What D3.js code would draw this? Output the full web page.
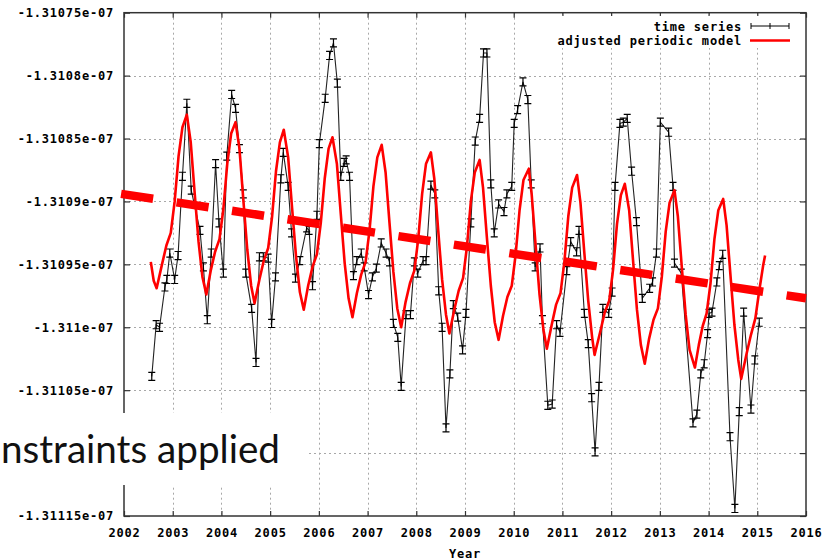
<!DOCTYPE html>
<html>
<head>
<meta charset="utf-8">
<script src="https://cdn.jsdelivr.net/npm/d3@7/dist/d3.min.js"></script>
<style>
  html, body { margin: 0; padding: 0; background: #fff; }
  svg { display: block; }
  .mono { font-family: "DejaVu Sans Mono", "Liberation Mono", monospace; font-weight: bold; font-size: 12px; letter-spacing: 0.8px; fill: #000; }
</style>
</head>
<body>
<svg id="chart" width="840" height="560"></svg>
<script>
// Observed time series (decimal year, value) with a constant error bar
const seriesYears = [
  2002.57, 2002.66, 2002.73, 2002.84, 2002.88, 2002.94, 2003.04, 2003.11, 2003.20, 2003.29,
  2003.38, 2003.56, 2003.63, 2003.71, 2003.79, 2003.88, 2003.95, 2004.04, 2004.11, 2004.21,
  2004.29, 2004.37, 2004.45, 2004.50, 2004.62, 2004.71, 2004.78, 2004.86, 2004.96, 2005.03,
  2005.11, 2005.22, 2005.27, 2005.37, 2005.44, 2005.52, 2005.61, 2005.75, 2005.80, 2005.87,
  2005.96, 2006.01, 2006.13, 2006.22, 2006.30, 2006.38, 2006.45, 2006.52, 2006.56, 2006.63,
  2006.71, 2006.78, 2006.87, 2006.93, 2007.02, 2007.10, 2007.18, 2007.28, 2007.38, 2007.45,
  2007.53, 2007.62, 2007.69, 2007.79, 2007.88, 2007.96, 2008.03, 2008.14, 2008.20, 2008.30,
  2008.38, 2008.46, 2008.53, 2008.61, 2008.69, 2008.76, 2008.85, 2008.95, 2009.02, 2009.12,
  2009.21, 2009.30, 2009.38, 2009.45, 2009.53, 2009.60, 2009.69, 2009.80, 2009.86, 2009.96,
  2010.01, 2010.08, 2010.19, 2010.29, 2010.36, 2010.44, 2010.54, 2010.59, 2010.70, 2010.79,
  2010.88, 2010.95, 2011.09, 2011.17, 2011.29, 2011.34, 2011.45, 2011.53, 2011.60, 2011.67,
  2011.75, 2011.83, 2011.95, 2012.02, 2012.08, 2012.18, 2012.25, 2012.33, 2012.42, 2012.52,
  2012.64, 2012.79, 2012.85, 2012.93, 2013.01, 2013.18, 2013.27, 2013.30, 2013.44, 2013.68,
  2013.76, 2013.84, 2013.91, 2013.98, 2014.01, 2014.07, 2014.17, 2014.22, 2014.29, 2014.44,
  2014.54, 2014.63, 2014.72, 2014.87, 2014.95, 2015.04
];
const seriesValues = [
  -1.311039e-7, -1.310998e-7, -1.311000e-7, -1.310968e-7, -1.310962e-7, -1.310941e-7, -1.310962e-7, -1.310943e-7, -1.310880e-7, -1.310822e-7,
  -1.310891e-7, -1.310923e-7, -1.310952e-7, -1.310994e-7, -1.310941e-7, -1.310870e-7, -1.310917e-7, -1.310957e-7, -1.310864e-7, -1.310815e-7,
  -1.310826e-7, -1.310858e-7, -1.310894e-7, -1.310957e-7, -1.310985e-7, -1.311028e-7, -1.310944e-7, -1.310944e-7, -1.310945e-7, -1.310997e-7,
  -1.310960e-7, -1.310882e-7, -1.310861e-7, -1.310888e-7, -1.310925e-7, -1.310961e-7, -1.310947e-7, -1.310921e-7, -1.310923e-7, -1.310967e-7,
  -1.310911e-7, -1.310854e-7, -1.310818e-7, -1.310784e-7, -1.310774e-7, -1.310806e-7, -1.310880e-7, -1.310869e-7, -1.310867e-7, -1.310880e-7,
  -1.310959e-7, -1.310947e-7, -1.310941e-7, -1.310952e-7, -1.310974e-7, -1.310960e-7, -1.310953e-7, -1.310933e-7, -1.310941e-7, -1.310948e-7,
  -1.310997e-7, -1.311008e-7, -1.311047e-7, -1.310990e-7, -1.310990e-7, -1.310948e-7, -1.310957e-7, -1.310947e-7, -1.310947e-7, -1.310887e-7,
  -1.310894e-7, -1.310971e-7, -1.311000e-7, -1.311080e-7, -1.311037e-7, -1.310982e-7, -1.310992e-7, -1.311018e-7, -1.310989e-7, -1.310917e-7,
  -1.310852e-7, -1.310834e-7, -1.310782e-7, -1.310782e-7, -1.310886e-7, -1.310925e-7, -1.310902e-7, -1.310908e-7, -1.310894e-7, -1.310888e-7,
  -1.310838e-7, -1.310827e-7, -1.310805e-7, -1.310819e-7, -1.310886e-7, -1.310952e-7, -1.310937e-7, -1.310994e-7, -1.311062e-7, -1.311061e-7,
  -1.310998e-7, -1.311004e-7, -1.310955e-7, -1.310932e-7, -1.310940e-7, -1.310923e-7, -1.310989e-7, -1.311013e-7, -1.311056e-7, -1.311099e-7,
  -1.311047e-7, -1.310985e-7, -1.310989e-7, -1.310972e-7, -1.310888e-7, -1.310838e-7, -1.310837e-7, -1.310834e-7, -1.310876e-7, -1.310916e-7,
  -1.310977e-7, -1.310969e-7, -1.310964e-7, -1.310941e-7, -1.310837e-7, -1.310845e-7, -1.310888e-7, -1.310949e-7, -1.310957e-7, -1.311076e-7,
  -1.311069e-7, -1.311037e-7, -1.311029e-7, -1.311005e-7, -1.310989e-7, -1.310988e-7, -1.310964e-7, -1.310951e-7, -1.310942e-7, -1.311087e-7,
  -1.311144e-7, -1.311067e-7, -1.310988e-7, -1.311065e-7, -1.311026e-7, -1.310996e-7
];
const seriesError = 3.2e-13;

// Adjusted periodic model
const modelYears = [
  2002.55, 2002.61, 2002.67, 2002.78, 2002.87, 2002.96, 2003.04, 2003.12, 2003.20, 2003.29,
  2003.37, 2003.45, 2003.53, 2003.61, 2003.69, 2003.78, 2003.87, 2003.96, 2004.04, 2004.12,
  2004.20, 2004.29, 2004.37, 2004.45, 2004.53, 2004.61, 2004.68, 2004.78, 2004.87, 2004.96,
  2005.04, 2005.12, 2005.20, 2005.28, 2005.37, 2005.45, 2005.53, 2005.61, 2005.69, 2005.78,
  2005.87, 2005.96, 2006.04, 2006.12, 2006.20, 2006.28, 2006.37, 2006.45, 2006.53, 2006.61,
  2006.69, 2006.78, 2006.87, 2006.96, 2007.04, 2007.12, 2007.20, 2007.29, 2007.37, 2007.45,
  2007.53, 2007.61, 2007.69, 2007.78, 2007.87, 2007.96, 2008.04, 2008.12, 2008.20, 2008.30,
  2008.37, 2008.45, 2008.53, 2008.61, 2008.68, 2008.78, 2008.87, 2008.96, 2009.04, 2009.12,
  2009.20, 2009.30, 2009.37, 2009.45, 2009.53, 2009.61, 2009.69, 2009.78, 2009.87, 2009.96,
  2010.04, 2010.12, 2010.20, 2010.31, 2010.37, 2010.45, 2010.53, 2010.61, 2010.68, 2010.78,
  2010.87, 2010.96, 2011.04, 2011.12, 2011.20, 2011.30, 2011.37, 2011.45, 2011.53, 2011.61,
  2011.66, 2011.78, 2011.87, 2011.96, 2012.04, 2012.12, 2012.20, 2012.28, 2012.37, 2012.45,
  2012.53, 2012.61, 2012.69, 2012.78, 2012.87, 2012.96, 2013.04, 2013.12, 2013.20, 2013.30,
  2013.37, 2013.45, 2013.53, 2013.61, 2013.72, 2013.80, 2013.88, 2013.96, 2014.04, 2014.12,
  2014.20, 2014.30, 2014.37, 2014.45, 2014.53, 2014.61, 2014.67, 2014.78, 2014.87, 2014.96,
  2015.04, 2015.12, 2015.16
];
const modelValues = [
  -1.310948e-7, -1.310963e-7, -1.310969e-7, -1.310950e-7, -1.310935e-7, -1.310925e-7, -1.310900e-7, -1.310864e-7, -1.310841e-7, -1.310831e-7,
  -1.310853e-7, -1.310893e-7, -1.310932e-7, -1.310960e-7, -1.310974e-7, -1.310955e-7, -1.310940e-7, -1.310930e-7, -1.310906e-7, -1.310870e-7,
  -1.310846e-7, -1.310837e-7, -1.310858e-7, -1.310899e-7, -1.310938e-7, -1.310967e-7, -1.310981e-7, -1.310962e-7, -1.310947e-7, -1.310937e-7,
  -1.310912e-7, -1.310876e-7, -1.310853e-7, -1.310843e-7, -1.310865e-7, -1.310905e-7, -1.310943e-7, -1.310972e-7, -1.310986e-7, -1.310967e-7,
  -1.310952e-7, -1.310942e-7, -1.310917e-7, -1.310882e-7, -1.310858e-7, -1.310849e-7, -1.310870e-7, -1.310910e-7, -1.310949e-7, -1.310977e-7,
  -1.310992e-7, -1.310973e-7, -1.310958e-7, -1.310948e-7, -1.310923e-7, -1.310888e-7, -1.310865e-7, -1.310855e-7, -1.310877e-7, -1.310917e-7,
  -1.310956e-7, -1.310985e-7, -1.311000e-7, -1.310980e-7, -1.310965e-7, -1.310955e-7, -1.310930e-7, -1.310894e-7, -1.310870e-7, -1.310861e-7,
  -1.310882e-7, -1.310923e-7, -1.310962e-7, -1.310990e-7, -1.311005e-7, -1.310986e-7, -1.310971e-7, -1.310961e-7, -1.310936e-7, -1.310900e-7,
  -1.310877e-7, -1.310867e-7, -1.310889e-7, -1.310929e-7, -1.310967e-7, -1.310996e-7, -1.311010e-7, -1.310991e-7, -1.310976e-7, -1.310967e-7,
  -1.310942e-7, -1.310907e-7, -1.310883e-7, -1.310874e-7, -1.310895e-7, -1.310935e-7, -1.310974e-7, -1.311002e-7, -1.311017e-7, -1.310998e-7,
  -1.310982e-7, -1.310973e-7, -1.310948e-7, -1.310912e-7, -1.310889e-7, -1.310879e-7, -1.310901e-7, -1.310941e-7, -1.310979e-7, -1.311008e-7,
  -1.311022e-7, -1.311003e-7, -1.310988e-7, -1.310979e-7, -1.310954e-7, -1.310918e-7, -1.310895e-7, -1.310886e-7, -1.310907e-7, -1.310947e-7,
  -1.310986e-7, -1.311014e-7, -1.311029e-7, -1.311009e-7, -1.310994e-7, -1.310985e-7, -1.310960e-7, -1.310924e-7, -1.310901e-7, -1.310891e-7,
  -1.310912e-7, -1.310952e-7, -1.310990e-7, -1.311018e-7, -1.311032e-7, -1.311014e-7, -1.310999e-7, -1.310989e-7, -1.310965e-7, -1.310930e-7,
  -1.310907e-7, -1.310898e-7, -1.310919e-7, -1.310959e-7, -1.310998e-7, -1.311026e-7, -1.311041e-7, -1.311021e-7, -1.311006e-7, -1.310993e-7,
  -1.310971e-7, -1.310951e-7, -1.310943e-7
];

// Linear trend overlay
const trendYears = [2001.94, 2016];
const trendValues = [-1.310894e-7, -1.310977e-7];

// Axis ticks
const xTicks = [2002, 2003, 2004, 2005, 2006, 2007, 2008, 2009, 2010, 2011, 2012, 2013, 2014, 2015, 2016];
const yTicks = [-1.31075e-7, -1.3108e-7, -1.31085e-7, -1.3109e-7, -1.31095e-7, -1.311e-7, -1.31105e-7, -1.3111e-7, -1.31115e-7];
const yTickLabels = ["-1.31075e-07", "-1.3108e-07", "-1.31085e-07", "-1.3109e-07", "-1.31095e-07", "-1.311e-07", "-1.31105e-07", "-1.3111e-07", "-1.31115e-07"];

const legendLabels = ["time series", "adjusted periodic model"];
const noteText = "nstraints applied";

const plot = { left: 124, right: 806, top: 12.7, bottom: 516 };
const svg = d3.select("#chart");
svg.append("rect").attr("width", 840).attr("height", 560).attr("fill", "#fff");

const x = d3.scaleLinear().domain([2002, 2016]).range([plot.left, plot.right]);
const y = d3.scaleLinear().domain([-1.31115e-7, -1.31075e-7]).range([plot.bottom, plot.top]);

// Dotted grid
const grid = svg.append("g").attr("stroke", "#a8a8a8").attr("stroke-width", 1).attr("stroke-dasharray", "2,3");
grid.selectAll("line.gx").data(xTicks.slice(1, -1)).enter().append("line")
  .attr("x1", d => Math.round(x(d)) + 0.5).attr("x2", d => Math.round(x(d)) + 0.5)
  .attr("y1", plot.top).attr("y2", plot.bottom);
grid.selectAll("line.gy").data(yTicks.slice(1, -1)).enter().append("line")
  .attr("y1", d => Math.round(y(d)) + 0.5).attr("y2", d => Math.round(y(d)) + 0.5)
  .attr("x1", plot.left).attr("x2", plot.right);

// Axes with inward ticks on all four sides
function styleAxis(g) {
  g.select(".domain").remove();
  g.selectAll(".tick line").attr("stroke", "#333").attr("stroke-width", 1.2);
  g.selectAll(".tick text").attr("class", "mono").attr("fill", "#000");
}
const yFmt = d => yTickLabels[yTicks.indexOf(d)];
svg.append("g").attr("transform", `translate(${plot.left},0)`)
  .call(d3.axisLeft(y).tickValues(yTicks).tickFormat(yFmt).tickSizeInner(-6).tickSizeOuter(0).tickPadding(10))
  .call(styleAxis)
  .call(g => g.selectAll(".tick text").filter(d => d === -1.3111e-7).remove());
svg.append("g").attr("transform", `translate(${plot.right},0)`)
  .call(d3.axisRight(y).tickValues(yTicks).tickFormat("").tickSizeInner(-6).tickSizeOuter(0))
  .call(styleAxis);
svg.append("g").attr("transform", `translate(0,${plot.bottom})`)
  .call(d3.axisBottom(x).tickValues(xTicks).tickFormat(d3.format("d")).tickSizeInner(-5).tickSizeOuter(0).tickPadding(12.5))
  .call(styleAxis);
svg.append("g").attr("transform", `translate(0,${plot.top})`)
  .call(d3.axisTop(x).tickValues(xTicks).tickFormat("").tickSizeInner(-5).tickSizeOuter(0))
  .call(styleAxis);

// Frame
svg.append("rect")
  .attr("x", plot.left).attr("y", plot.top)
  .attr("width", plot.right - plot.left).attr("height", plot.bottom - plot.top)
  .attr("fill", "none").attr("stroke", "#333").attr("stroke-width", 1.5);

// Axis title
svg.append("text").attr("class", "mono").attr("x", (plot.left + plot.right) / 2).attr("y", 558)
  .attr("text-anchor", "middle").text("Year");

// Legend (opaque background)
svg.append("rect").attr("x", 552).attr("y", 16).attr("width", 244).attr("height", 32).attr("fill", "#fff");

// Time series line and error bars
const series = seriesYears.map((yr, i) => ({ yr, v: seriesValues[i] }));
svg.append("path").datum(series)
  .attr("fill", "none").attr("stroke", "#222").attr("stroke-width", 1.1)
  .attr("d", d3.line().x(d => x(d.yr)).y(d => y(d.v)));
const bars = svg.append("g").attr("stroke", "#000").attr("stroke-width", 1.2);
bars.selectAll("path").data(series).enter().append("path")
  .attr("fill", "none")
  .attr("d", d => {
    const cx = x(d.yr), y0 = y(d.v - seriesError), y1 = y(d.v + seriesError);
    return `M${cx},${y0}V${y1}M${cx - 3.5},${y0}H${cx + 3.5}M${cx - 3.5},${y1}H${cx + 3.5}`;
  });

// Periodic model
const model = modelYears.map((yr, i) => ({ yr, v: modelValues[i] }));
svg.append("path").datum(model)
  .attr("fill", "none").attr("stroke", "#ff0000").attr("stroke-width", 2.6).attr("stroke-linejoin", "round")
  .attr("d", d3.line().x(d => x(d.yr)).y(d => y(d.v)));

// Trend (thick dashed)
const trend = trendYears.map((yr, i) => ({ yr, v: trendValues[i] }));
svg.append("path").datum(trend)
  .attr("fill", "none").attr("stroke", "#ff0000").attr("stroke-width", 8.5)
  .attr("stroke-dasharray", "32.4,23.7")
  .attr("d", d3.line().x(d => x(d.yr)).y(d => y(d.v)));

// Legend entries
svg.append("text").attr("class", "mono").attr("x", 742).attr("y", 31).attr("text-anchor", "end").text(legendLabels[0]);
svg.append("text").attr("class", "mono").attr("x", 742).attr("y", 45).attr("text-anchor", "end").text(legendLabels[1]);
svg.append("path").attr("fill", "none").attr("stroke", "#000").attr("stroke-width", 1)
  .attr("d", "M751,26H789M751,23V29M789,23V29M770,23V29");
svg.append("line").attr("x1", 750).attr("x2", 790).attr("y1", 40.5).attr("y2", 40.5)
  .attr("stroke", "#ff0000").attr("stroke-width", 2.4);

// Annotation panel
svg.append("rect").attr("x", 0).attr("y", 413).attr("width", 309).attr("height", 72).attr("fill", "#fff");
svg.append("text").attr("x", 1).attr("y", 463)
  .attr("font-family", "Lato, 'Open Sans', sans-serif").attr("font-size", 38).attr("fill", "#111")
  .attr("textLength", 279).attr("lengthAdjust", "spacingAndGlyphs")
  .text(noteText);
</script>
</body>
</html>
